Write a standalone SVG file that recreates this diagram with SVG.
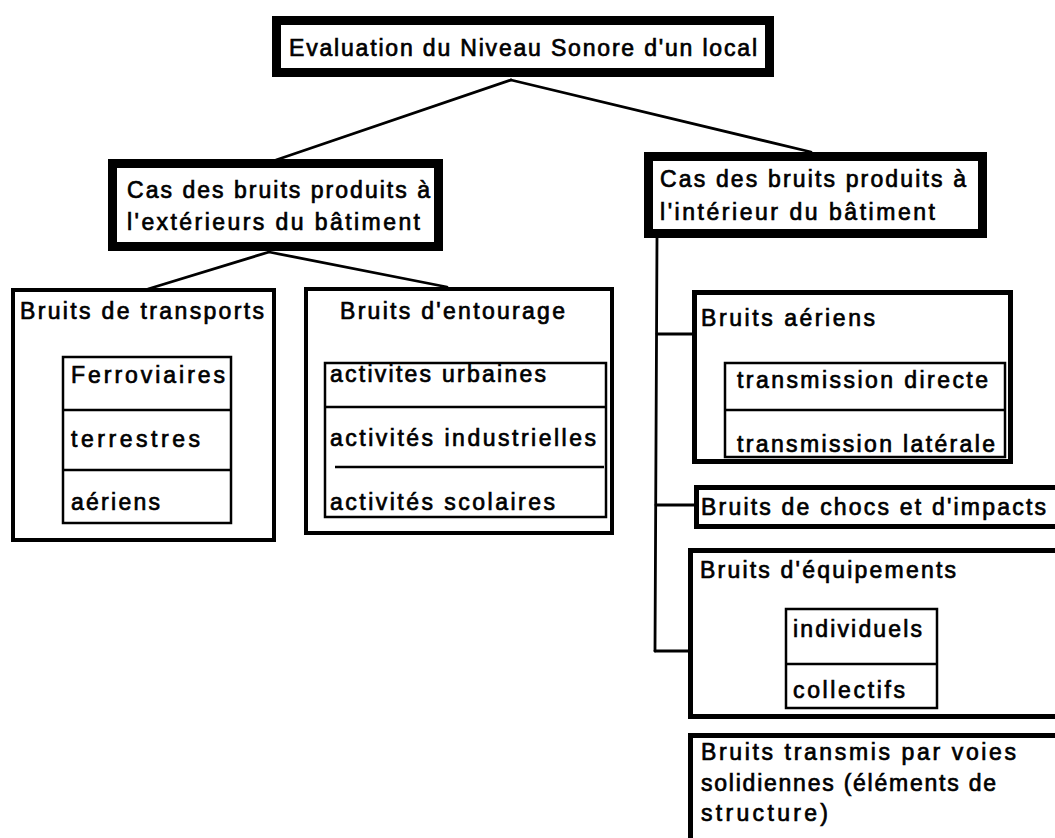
<svg xmlns="http://www.w3.org/2000/svg" width="1055" height="838" viewBox="0 0 1055 838">
<style>
.t{font-family:"Liberation Sans",Arial,sans-serif;font-size:23px;fill:#000;stroke:#000;stroke-width:0.7}
.b9{fill:#fff;stroke:#000;stroke-width:9}
.b5{fill:#fff;stroke:#000;stroke-width:5}
.b4{fill:#fff;stroke:#000;stroke-width:4}
.l2{fill:none;stroke:#000;stroke-width:2.5}
.c{fill:none;stroke:#000;stroke-width:2.8;stroke-linecap:round}
</style>
<rect width="1055" height="838" fill="#fff"/>
<g id="connectors">
<path class="c" d="M511 80 L276 160"/>
<path class="c" d="M511 80 L811 152"/>
<path class="c" d="M269 252 L148 289"/>
<path class="c" d="M269 252 L447 287"/>
<path class="c" d="M657 238 L655 651"/>
<path class="c" d="M657 334 L692 334"/>
<path class="c" d="M656 505 L694 505"/>
<path class="c" d="M655 651 L688 651"/>
</g>
<g id="root">
<rect class="b9" x="276.5" y="20.5" width="493" height="52"/>
<text class="t" x="289" y="56" textLength="468" lengthAdjust="spacing">Evaluation du Niveau Sonore d'un local</text>
</g>
<g id="exterieur">
<rect class="b9" x="112.5" y="163.5" width="326" height="83"/>
<text class="t" x="127" y="198" textLength="303" lengthAdjust="spacing">Cas des bruits produits à</text>
<text class="t" x="127" y="230" textLength="293" lengthAdjust="spacing">l'extérieurs du bâtiment</text>
</g>
<g id="interieur">
<rect class="b9" x="648.5" y="156.5" width="334" height="77"/>
<text class="t" x="660" y="187" textLength="306" lengthAdjust="spacing">Cas des bruits produits à</text>
<text class="t" x="660" y="220" textLength="275" lengthAdjust="spacing">l'intérieur du bâtiment</text>
</g>
<g id="transports">
<rect class="b4" x="13" y="290" width="261" height="250"/>
<text class="t" x="20" y="319" textLength="244" lengthAdjust="spacing">Bruits de transports</text>
<rect class="l2" x="63" y="357" width="168" height="166"/>
<path class="l2" d="M63 410 H231 M63 470 H231"/>
<text class="t" x="71" y="383" textLength="154" lengthAdjust="spacing">Ferroviaires</text>
<text class="t" x="71" y="447" textLength="129" lengthAdjust="spacing">terrestres</text>
<text class="t" x="71" y="510" textLength="89" lengthAdjust="spacing">aériens</text>
</g>
<g id="entourage">
<rect class="b4" x="306" y="289" width="306" height="244"/>
<text class="t" x="340" y="319" textLength="225" lengthAdjust="spacing">Bruits d'entourage</text>
<rect class="l2" x="325" y="363" width="281" height="154"/>
<path class="l2" d="M325 407 H606 M335 467 H604"/>
<text class="t" x="330" y="382" textLength="216" lengthAdjust="spacing">activites urbaines</text>
<text class="t" x="330" y="446" textLength="266" lengthAdjust="spacing">activités industrielles</text>
<text class="t" x="330" y="510" textLength="225" lengthAdjust="spacing">activités scolaires</text>
</g>
<g id="aeriens">
<rect class="b5" x="694.5" y="292.5" width="316" height="169"/>
<text class="t" x="701" y="326" textLength="174" lengthAdjust="spacing">Bruits aériens</text>
<rect class="l2" x="725" y="363" width="280" height="94"/>
<path class="l2" d="M725 410 H1005"/>
<text class="t" x="737" y="388" textLength="251" lengthAdjust="spacing">transmission directe</text>
<text class="t" x="737" y="452" textLength="258" lengthAdjust="spacing">transmission latérale</text>
</g>
<g id="chocs">
<rect class="b5" x="696.5" y="487.5" width="370" height="39"/>
<text class="t" x="701" y="515" textLength="345" lengthAdjust="spacing">Bruits de chocs et d'impacts</text>
</g>
<g id="equipements">
<rect class="b5" x="690.5" y="550.5" width="380" height="166"/>
<text class="t" x="700" y="578" textLength="256" lengthAdjust="spacing">Bruits d'équipements</text>
<rect class="l2" x="786" y="609" width="151" height="99"/>
<path class="l2" d="M786 664 H937"/>
<text class="t" x="793" y="637" textLength="129" lengthAdjust="spacing">individuels</text>
<text class="t" x="793" y="698" textLength="112" lengthAdjust="spacing">collectifs</text>
</g>
<g id="solidiennes">
<rect class="b5" x="690.5" y="735.5" width="380" height="120"/>
<text class="t" x="701" y="760" textLength="315" lengthAdjust="spacing">Bruits transmis par voies</text>
<text class="t" x="701" y="791" textLength="295" lengthAdjust="spacing">solidiennes (éléments de</text>
<text class="t" x="701" y="821" textLength="127" lengthAdjust="spacing">structure)</text>
</g>
</svg>
